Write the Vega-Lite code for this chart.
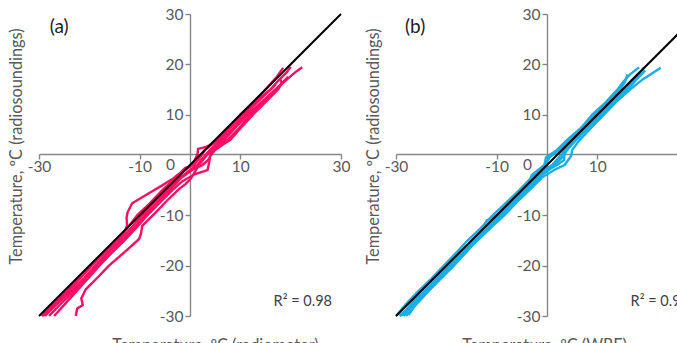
{
  "$schema": "https://vega.github.io/schema/vega-lite/v6.json",
  "background": "white",
  "padding": {"left": 8, "top": 7, "right": 0, "bottom": 0},
  "spacing": 55,
  "bounds": "flush",
  "config": {
    "view": {"stroke": null},
    "font": "Lato",
    "axis": {
      "grid": false,
      "domainColor": "#868686",
      "domainWidth": 1.4,
      "tickColor": "#868686",
      "tickWidth": 1.4,
      "tickSize": 5,
      "labelFontSize": 15.5,
      "labelColor": "#595959",
      "labelFlush": false,
      "labelOverlap": false,
      "labelExpr": "'' + datum.value",
      "titleFontSize": 16.3,
      "titleColor": "#595959",
      "titleFontWeight": "normal"
    }
  },
  "datasets": {
    "diag": [{"x": -30, "y": -30}, {"x": 30, "y": 30}],
    "a": [
      {"s":1,"k":0,"x":-29.5,"y":-30},{"s":1,"k":1,"x":-27,"y":-27.5},{"s":1,"k":2,"x":-24.5,"y":-25},{"s":1,"k":3,"x":-22,"y":-22.3},{"s":1,"k":4,"x":-19.8,"y":-20},{"s":1,"k":5,"x":-17.2,"y":-17.5},{"s":1,"k":6,"x":-14.8,"y":-15},{"s":1,"k":7,"x":-12.5,"y":-12.6},{"s":1,"k":8,"x":-10.5,"y":-10},{"s":1,"k":9,"x":-8,"y":-7.6},{"s":1,"k":10,"x":-5.5,"y":-5},{"s":1,"k":11,"x":-3,"y":-2.7},{"s":1,"k":12,"x":-1,"y":-0.6},{"s":1,"k":13,"x":0.8,"y":0},{"s":1,"k":14,"x":2.2,"y":1.8},{"s":1,"k":15,"x":3,"y":3},{"s":1,"k":16,"x":5.5,"y":5},{"s":1,"k":17,"x":7.8,"y":7.4},{"s":1,"k":18,"x":10,"y":10},{"s":1,"k":19,"x":12.6,"y":12.4},{"s":1,"k":20,"x":15,"y":15},{"s":1,"k":21,"x":17,"y":17.2},{"s":1,"k":22,"x":18.5,"y":19.3},
      {"s":2,"k":0,"x":-28.8,"y":-30},{"s":2,"k":1,"x":-26,"y":-27.2},{"s":2,"k":2,"x":-23.5,"y":-25},{"s":2,"k":3,"x":-21,"y":-22.4},{"s":2,"k":4,"x":-18.8,"y":-20},{"s":2,"k":5,"x":-16.5,"y":-17.6},{"s":2,"k":6,"x":-14,"y":-15},{"s":2,"k":7,"x":-11.6,"y":-12.4},{"s":2,"k":8,"x":-9.5,"y":-10},{"s":2,"k":9,"x":-7,"y":-7.3},{"s":2,"k":10,"x":-4.5,"y":-5},{"s":2,"k":11,"x":-2,"y":-2.5},{"s":2,"k":12,"x":0.3,"y":-0.8},{"s":2,"k":13,"x":1.5,"y":0},{"s":2,"k":14,"x":2.2,"y":1},{"s":2,"k":15,"x":4,"y":3},{"s":2,"k":16,"x":5.2,"y":4.2},{"s":2,"k":17,"x":6.5,"y":5},{"s":2,"k":18,"x":8.5,"y":7.2},{"s":2,"k":19,"x":11,"y":10},{"s":2,"k":20,"x":13.2,"y":12.3},{"s":2,"k":21,"x":16,"y":15},{"s":2,"k":22,"x":17.6,"y":16.8},{"s":2,"k":23,"x":19.2,"y":18.4},{"s":2,"k":24,"x":20,"y":19.5},
      {"s":3,"k":0,"x":-28,"y":-30},{"s":3,"k":1,"x":-25.5,"y":-27.4},{"s":3,"k":2,"x":-23,"y":-25},{"s":3,"k":3,"x":-20.8,"y":-22.6},{"s":3,"k":4,"x":-18.5,"y":-20},{"s":3,"k":5,"x":-16,"y":-17.3},{"s":3,"k":6,"x":-13.5,"y":-15},{"s":3,"k":7,"x":-11,"y":-12.4},{"s":3,"k":8,"x":-9,"y":-10},{"s":3,"k":9,"x":-6.5,"y":-7.4},{"s":3,"k":10,"x":-4,"y":-5},{"s":3,"k":11,"x":-1.8,"y":-2.6},{"s":3,"k":12,"x":0.4,"y":-1},{"s":3,"k":13,"x":2.5,"y":0},{"s":3,"k":14,"x":3.8,"y":1.2},{"s":3,"k":15,"x":4.5,"y":3},{"s":3,"k":16,"x":6,"y":4.2},{"s":3,"k":17,"x":7.5,"y":5},{"s":3,"k":18,"x":9.8,"y":7.4},{"s":3,"k":19,"x":12,"y":10},{"s":3,"k":20,"x":14.6,"y":12.6},{"s":3,"k":21,"x":17,"y":15},{"s":3,"k":22,"x":19.5,"y":17.2},{"s":3,"k":23,"x":21,"y":18.5},{"s":3,"k":24,"x":22.3,"y":19.4},
      {"s":4,"k":0,"x":-27,"y":-30},{"s":4,"k":1,"x":-25,"y":-27.8},{"s":4,"k":2,"x":-22.5,"y":-25},{"s":4,"k":3,"x":-20.2,"y":-22.5},{"s":4,"k":4,"x":-18,"y":-20},{"s":4,"k":5,"x":-15.6,"y":-17.5},{"s":4,"k":6,"x":-13,"y":-15},{"s":4,"k":7,"x":-10.8,"y":-12.6},{"s":4,"k":8,"x":-8.5,"y":-10},{"s":4,"k":9,"x":-6,"y":-7.5},{"s":4,"k":10,"x":-3.5,"y":-5},{"s":4,"k":11,"x":-1.5,"y":-3.2},{"s":4,"k":12,"x":1,"y":-1.8},{"s":4,"k":13,"x":3.5,"y":-1},{"s":4,"k":14,"x":3.8,"y":0.5},{"s":4,"k":15,"x":4,"y":1.8},{"s":4,"k":16,"x":5,"y":3},{"s":4,"k":17,"x":6.5,"y":4},{"s":4,"k":18,"x":8,"y":5},{"s":4,"k":19,"x":10.3,"y":7.6},{"s":4,"k":20,"x":12.5,"y":10},{"s":4,"k":21,"x":15,"y":12.5},{"s":4,"k":22,"x":17.5,"y":15},{"s":4,"k":23,"x":18.2,"y":16.2},{"s":4,"k":24,"x":18,"y":17},
      {"s":5,"k":0,"x":-29.2,"y":-30},{"s":5,"k":1,"x":-26.5,"y":-27.5},{"s":5,"k":2,"x":-24,"y":-25},{"s":5,"k":3,"x":-21.8,"y":-22.5},{"s":5,"k":4,"x":-19.5,"y":-20},{"s":5,"k":5,"x":-17,"y":-17.5},{"s":5,"k":6,"x":-14.5,"y":-15},{"s":5,"k":7,"x":-13,"y":-13.3},{"s":5,"k":8,"x":-12.5,"y":-12},{"s":5,"k":9,"x":-12.6,"y":-10.5},{"s":5,"k":10,"x":-12.4,"y":-9.4},{"s":5,"k":11,"x":-11.5,"y":-7.6},{"s":5,"k":12,"x":-9.5,"y":-6.4},{"s":5,"k":13,"x":-7.5,"y":-5.2},{"s":5,"k":14,"x":-5.6,"y":-4.1},{"s":5,"k":15,"x":-3.5,"y":-2.8},{"s":5,"k":16,"x":-2.5,"y":-2},{"s":5,"k":17,"x":-0.8,"y":-0.9},{"s":5,"k":18,"x":0.5,"y":0},{"s":5,"k":19,"x":1.5,"y":2.2},{"s":5,"k":20,"x":1.6,"y":3.2},{"s":5,"k":21,"x":3.2,"y":3.6},{"s":5,"k":22,"x":6,"y":5},{"s":5,"k":23,"x":8,"y":7.3},{"s":5,"k":24,"x":10.5,"y":10},{"s":5,"k":25,"x":13,"y":12.6},{"s":5,"k":26,"x":16,"y":15},{"s":5,"k":27,"x":17,"y":16},
      {"s":6,"k":0,"x":-22.7,"y":-30},{"s":6,"k":1,"x":-22.4,"y":-28.5},{"s":6,"k":2,"x":-21.3,"y":-27.8},{"s":6,"k":3,"x":-21.6,"y":-26.5},{"s":6,"k":4,"x":-20.7,"y":-24.7},{"s":6,"k":5,"x":-18.5,"y":-22.5},{"s":6,"k":6,"x":-16.1,"y":-20},{"s":6,"k":7,"x":-13,"y":-17.3},{"s":6,"k":8,"x":-10.1,"y":-14.7},{"s":6,"k":9,"x":-9.7,"y":-13.5},{"s":6,"k":10,"x":-9.5,"y":-12.1},{"s":6,"k":11,"x":-8.2,"y":-10.8},{"s":6,"k":12,"x":-6.8,"y":-9.4},{"s":6,"k":13,"x":-4.5,"y":-7},{"s":6,"k":14,"x":-2.2,"y":-4.8},{"s":6,"k":15,"x":-0.9,"y":-3.8},{"s":6,"k":16,"x":0.1,"y":-2.8},{"s":6,"k":17,"x":1.8,"y":0},{"s":6,"k":18,"x":3.2,"y":1.8},{"s":6,"k":19,"x":4.5,"y":3},{"s":6,"k":20,"x":6.8,"y":5},{"s":6,"k":21,"x":9.2,"y":7.6},{"s":6,"k":22,"x":11.5,"y":10},{"s":6,"k":23,"x":14.2,"y":12.5},{"s":6,"k":24,"x":17,"y":15},{"s":6,"k":25,"x":18.5,"y":16.5},{"s":6,"k":26,"x":19.5,"y":17.5}
    ],
    "b": [
      {"s":1,"k":0,"x":-30,"y":-30},{"s":1,"k":1,"x":-27.8,"y":-27.4},{"s":1,"k":2,"x":-25.5,"y":-25},{"s":1,"k":3,"x":-23,"y":-22.6},{"s":1,"k":4,"x":-20.5,"y":-20},{"s":1,"k":5,"x":-18,"y":-17.4},{"s":1,"k":6,"x":-15.8,"y":-15},{"s":1,"k":7,"x":-13.2,"y":-12.6},{"s":1,"k":8,"x":-10.8,"y":-10},{"s":1,"k":9,"x":-8,"y":-7.4},{"s":1,"k":10,"x":-5.5,"y":-5},{"s":1,"k":11,"x":-3,"y":-2.4},{"s":1,"k":12,"x":-1.2,"y":-0.8},{"s":1,"k":13,"x":-0.5,"y":0},{"s":1,"k":14,"x":0.6,"y":1.6},{"s":1,"k":15,"x":2.5,"y":3},{"s":1,"k":16,"x":4.5,"y":5},{"s":1,"k":17,"x":6.8,"y":7.4},{"s":1,"k":18,"x":9,"y":10},{"s":1,"k":19,"x":11.6,"y":12.4},{"s":1,"k":20,"x":14,"y":15},{"s":1,"k":21,"x":15.2,"y":16.6},{"s":1,"k":22,"x":16.5,"y":18},{"s":1,"k":23,"x":18.3,"y":19.4},
      {"s":2,"k":0,"x":-29.3,"y":-30},{"s":2,"k":1,"x":-26.7,"y":-27.6},{"s":2,"k":2,"x":-24.3,"y":-25},{"s":2,"k":3,"x":-21.8,"y":-22.5},{"s":2,"k":4,"x":-19.3,"y":-20},{"s":2,"k":5,"x":-16.8,"y":-17.6},{"s":2,"k":6,"x":-14.2,"y":-15},{"s":2,"k":7,"x":-11.8,"y":-12.5},{"s":2,"k":8,"x":-9.3,"y":-10},{"s":2,"k":9,"x":-6.6,"y":-7.4},{"s":2,"k":10,"x":-3.8,"y":-5},{"s":2,"k":11,"x":-1,"y":-2},{"s":2,"k":12,"x":0.6,"y":-0.8},{"s":2,"k":13,"x":2,"y":0},{"s":2,"k":14,"x":3.4,"y":1},{"s":2,"k":15,"x":3.5,"y":3},{"s":2,"k":16,"x":5.5,"y":5},{"s":2,"k":17,"x":8,"y":7.6},{"s":2,"k":18,"x":10.5,"y":10},{"s":2,"k":19,"x":12.8,"y":12.6},{"s":2,"k":20,"x":15.5,"y":15},{"s":2,"k":21,"x":17.2,"y":16.8},{"s":2,"k":22,"x":19.3,"y":19.4},
      {"s":3,"k":0,"x":-28.5,"y":-30},{"s":3,"k":1,"x":-26.2,"y":-27.2},{"s":3,"k":2,"x":-23.8,"y":-25},{"s":3,"k":3,"x":-21.2,"y":-22.5},{"s":3,"k":4,"x":-18.8,"y":-20},{"s":3,"k":5,"x":-16.3,"y":-17.4},{"s":3,"k":6,"x":-13.8,"y":-15},{"s":3,"k":7,"x":-11.2,"y":-12.5},{"s":3,"k":8,"x":-8.5,"y":-10},{"s":3,"k":9,"x":-6,"y":-7.4},{"s":3,"k":10,"x":-3.5,"y":-5},{"s":3,"k":11,"x":-1,"y":-2.5},{"s":3,"k":12,"x":1.4,"y":-1},{"s":3,"k":13,"x":3.5,"y":0},{"s":3,"k":14,"x":4.8,"y":1.8},{"s":3,"k":15,"x":5,"y":3},{"s":3,"k":16,"x":6.5,"y":5},{"s":3,"k":17,"x":8.8,"y":7.4},{"s":3,"k":18,"x":11.3,"y":10},{"s":3,"k":19,"x":13.8,"y":12.6},{"s":3,"k":20,"x":16.5,"y":15},{"s":3,"k":21,"x":19,"y":17},{"s":3,"k":22,"x":21,"y":18.3},{"s":3,"k":23,"x":22.6,"y":19.3},
      {"s":4,"k":0,"x":-27.5,"y":-29.8},{"s":4,"k":1,"x":-26,"y":-27.5},{"s":4,"k":2,"x":-24,"y":-25},{"s":4,"k":3,"x":-21.5,"y":-22.4},{"s":4,"k":4,"x":-19,"y":-20},{"s":4,"k":5,"x":-16.8,"y":-17.5},{"s":4,"k":6,"x":-14.5,"y":-15},{"s":4,"k":7,"x":-12.8,"y":-13},{"s":4,"k":8,"x":-12,"y":-11},{"s":4,"k":9,"x":-11,"y":-10.6},{"s":4,"k":10,"x":-10,"y":-10},{"s":4,"k":11,"x":-7.5,"y":-7.4},{"s":4,"k":12,"x":-5,"y":-5},{"s":4,"k":13,"x":-3.5,"y":-3.2},{"s":4,"k":14,"x":-3,"y":-2},{"s":4,"k":15,"x":-1.5,"y":-0.8},{"s":4,"k":16,"x":-0.5,"y":0},{"s":4,"k":17,"x":-0.2,"y":1.5},{"s":4,"k":18,"x":0.5,"y":2},{"s":4,"k":19,"x":2,"y":3},{"s":4,"k":20,"x":4,"y":5},{"s":4,"k":21,"x":6.8,"y":7.4},{"s":4,"k":22,"x":9.5,"y":10},{"s":4,"k":23,"x":12,"y":12.5},{"s":4,"k":24,"x":14.5,"y":15},{"s":4,"k":25,"x":15.5,"y":16.5},{"s":4,"k":26,"x":16,"y":18},
      {"s":5,"k":0,"x":-29,"y":-30},{"s":5,"k":1,"x":-27,"y":-27.6},{"s":5,"k":2,"x":-25,"y":-25},{"s":5,"k":3,"x":-22.3,"y":-22.4},{"s":5,"k":4,"x":-19.8,"y":-20},{"s":5,"k":5,"x":-17.2,"y":-17.4},{"s":5,"k":6,"x":-14.8,"y":-15},{"s":5,"k":7,"x":-12.4,"y":-12.5},{"s":5,"k":8,"x":-9.8,"y":-10},{"s":5,"k":9,"x":-7.2,"y":-7.5},{"s":5,"k":10,"x":-4.5,"y":-5},{"s":5,"k":11,"x":-2.2,"y":-2.6},{"s":5,"k":12,"x":-0.3,"y":-0.9},{"s":5,"k":13,"x":1,"y":0},{"s":5,"k":14,"x":2.8,"y":2},{"s":5,"k":15,"x":3.4,"y":3},{"s":5,"k":16,"x":5,"y":5},{"s":5,"k":17,"x":7.4,"y":7.5},{"s":5,"k":18,"x":10,"y":10},{"s":5,"k":19,"x":12.4,"y":12.5},{"s":5,"k":20,"x":15,"y":15},{"s":5,"k":21,"x":17,"y":17},{"s":5,"k":22,"x":18.5,"y":18.5},
      {"s":6,"k":0,"x":-28,"y":-30},{"s":6,"k":1,"x":-25.8,"y":-27.5},{"s":6,"k":2,"x":-23.5,"y":-25},{"s":6,"k":3,"x":-21,"y":-22.5},{"s":6,"k":4,"x":-18.5,"y":-20},{"s":6,"k":5,"x":-16.2,"y":-17.5},{"s":6,"k":6,"x":-14,"y":-15},{"s":6,"k":7,"x":-11.5,"y":-12.5},{"s":6,"k":8,"x":-9,"y":-10},{"s":6,"k":9,"x":-6.8,"y":-7.6},{"s":6,"k":10,"x":-4.2,"y":-5},{"s":6,"k":11,"x":-1.8,"y":-2.4},{"s":6,"k":12,"x":0.2,"y":-0.6},{"s":6,"k":13,"x":1.5,"y":0},{"s":6,"k":14,"x":3,"y":1.5},{"s":6,"k":15,"x":4.2,"y":3.2},{"s":6,"k":16,"x":5.8,"y":5},{"s":6,"k":17,"x":8.2,"y":7.4},{"s":6,"k":18,"x":10.8,"y":10},{"s":6,"k":19,"x":13.4,"y":12.6},{"s":6,"k":20,"x":16,"y":15},{"s":6,"k":21,"x":18,"y":17.2},{"s":6,"k":22,"x":19.5,"y":18.8}
    ],
    "labA": [{"t": "(a)", "x": -26, "y": 27.4}],
    "labB": [{"t": "(b)", "x": -26.2, "y": 27.4}],
    "r2": [{"t": "R² = 0.98", "x": 16.6, "y": -27.3}],
    "zero": [{"t": "0", "x": 0, "y": 0}]
  },
  "hconcat": [
    {
      "width": 302,
      "height": 302,
      "layer": [
        {
          "data": {"name": "a"},
          "mark": {"type": "line", "color": "#FA0F64", "strokeWidth": 2.4},
          "encoding": {
            "x": {"field": "x", "type": "quantitative", "scale": {"domain": [-30, 30], "nice": false, "zero": false},
              "axis": {"orient": "bottom", "offset": -162, "values": [-30, -10, 10, 30], "labelPadding": 0,
                "title": "Temperature, ºC (radiometer)", "titleX": 176, "titleY": 183, "titleBaseline": "top", "titleAlign": "center"}},
            "y": {"field": "y", "type": "quantitative", "scale": {"domain": [-30, 30], "nice": false, "zero": false},
              "axis": {"orient": "left", "offset": -151, "values": [-30, -20, -10, 10, 20, 30], "labelPadding": 2,
                "title": "Temperature, ºC  (radiosoundings)", "titleX": -166, "titleY": 132, "titleAngle": -90, "titleBaseline": "bottom", "titleAlign": "center"}},
            "detail": {"field": "s"},
            "order": {"field": "k"}
          }
        },
        {
          "data": {"name": "diag"},
          "mark": {"type": "line", "color": "#000000", "strokeWidth": 2},
          "encoding": {"x": {"field": "x", "type": "quantitative"}, "y": {"field": "y", "type": "quantitative"}}
        },
        {
          "data": {"name": "labA"},
          "mark": {"type": "text", "fontSize": 19, "color": "#222222", "align": "center", "baseline": "middle"},
          "encoding": {"x": {"field": "x", "type": "quantitative"}, "y": {"field": "y", "type": "quantitative"}, "text": {"field": "t"}}
        },
        {
          "data": {"name": "r2"},
          "mark": {"type": "text", "fontSize": 14.5, "color": "#404040", "align": "left", "baseline": "middle"},
          "encoding": {"x": {"field": "x", "type": "quantitative"}, "y": {"field": "y", "type": "quantitative"}, "text": {"field": "t"}}
        },
        {
          "data": {"name": "zero"},
          "mark": {"type": "text", "fontSize": 15.5, "color": "#595959", "align": "right", "baseline": "middle", "dx": -15},
          "encoding": {"x": {"field": "x", "type": "quantitative"}, "y": {"field": "y", "type": "quantitative"}, "text": {"field": "t"}}
        }
      ]
    },
    {
      "width": 302,
      "height": 302,
      "layer": [
        {
          "data": {"name": "b"},
          "mark": {"type": "line", "color": "#18AEE6", "strokeWidth": 2.4},
          "encoding": {
            "x": {"field": "x", "type": "quantitative", "scale": {"domain": [-30, 30], "nice": false, "zero": false},
              "axis": {"orient": "bottom", "offset": -162, "values": [-30, -10, 10, 30], "labelPadding": 0,
                "title": "Temperature, ºC (WRF)", "titleX": 148, "titleY": 183, "titleBaseline": "top", "titleAlign": "center"}},
            "y": {"field": "y", "type": "quantitative", "scale": {"domain": [-30, 30], "nice": false, "zero": false},
              "axis": {"orient": "left", "offset": -151, "values": [-30, -20, -10, 10, 20, 30], "labelPadding": 2,
                "title": "Temperature, ºC  (radiosoundings)", "titleX": -166, "titleY": 132, "titleAngle": -90, "titleBaseline": "bottom", "titleAlign": "center"}},
            "detail": {"field": "s"},
            "order": {"field": "k"}
          }
        },
        {
          "data": {"name": "diag"},
          "mark": {"type": "line", "color": "#000000", "strokeWidth": 2},
          "encoding": {"x": {"field": "x", "type": "quantitative"}, "y": {"field": "y", "type": "quantitative"}}
        },
        {
          "data": {"name": "labB"},
          "mark": {"type": "text", "fontSize": 19, "color": "#222222", "align": "center", "baseline": "middle"},
          "encoding": {"x": {"field": "x", "type": "quantitative"}, "y": {"field": "y", "type": "quantitative"}, "text": {"field": "t"}}
        },
        {
          "data": {"name": "r2"},
          "mark": {"type": "text", "fontSize": 14.5, "color": "#404040", "align": "left", "baseline": "middle"},
          "encoding": {"x": {"field": "x", "type": "quantitative"}, "y": {"field": "y", "type": "quantitative"}, "text": {"field": "t"}}
        },
        {
          "data": {"name": "zero"},
          "mark": {"type": "text", "fontSize": 15.5, "color": "#595959", "align": "right", "baseline": "middle", "dx": -15},
          "encoding": {"x": {"field": "x", "type": "quantitative"}, "y": {"field": "y", "type": "quantitative"}, "text": {"field": "t"}}
        }
      ]
    }
  ]
}
